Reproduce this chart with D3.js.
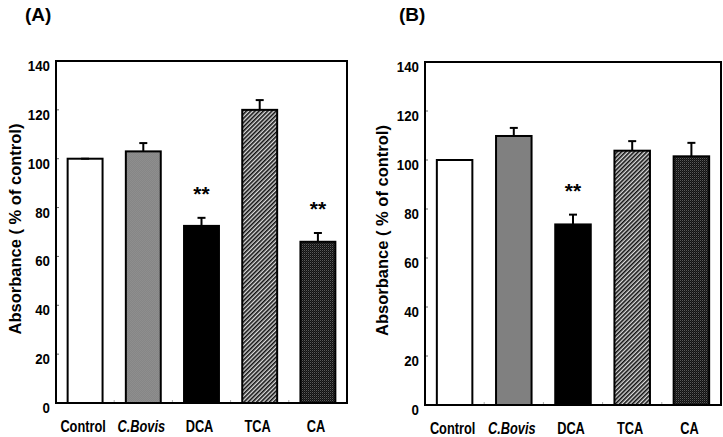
<!DOCTYPE html>
<html>
<head>
<meta charset="utf-8">
<script src="https://cdn.jsdelivr.net/npm/d3@7/dist/d3.min.js"></script>
<style>
  html, body { margin: 0; padding: 0; background: #fff; }
  svg { display: block; }
  text { font-family: "Liberation Sans", Arial, sans-serif; font-weight: bold; fill: #000; }
</style>
</head>
<body>
<svg id="chart" width="723" height="437"></svg>
<script>
// ---- data ----
const categories = ["Control", "C.Bovis", "DCA", "TCA", "CA"];
const valuesA = [100, 103, 72.5, 120, 66];
const errorsA = [0, 3.4, 3.3, 4, 3.6];
const sigA = ["", "", "**", "", "**"];
const valuesB = [100, 109.8, 73.7, 103.8, 101.5];
const errorsB = [0, 3.3, 4, 3.9, 5.5];
const sigB = ["", "", "**", "", ""];
const yTicks = [0, 20, 40, 60, 80, 100, 120, 140];
const panelLabels = ["(A)", "(B)"];
const yTitle = "Absorbance ( % of control)";

const svg = d3.select("#chart");
const defs = svg.append("defs");

// patterns
function patCBovisA() {
  const p = defs.append("pattern").attr("id", "pCBA").attr("patternUnits", "userSpaceOnUse")
    .attr("width", 2).attr("height", 2);
  p.append("rect").attr("width", 2).attr("height", 2).attr("fill", "#868686");
  p.append("rect").attr("width", 1).attr("height", 1).attr("fill", "#8e8e8e");
  p.append("rect").attr("x", 1).attr("y", 1).attr("width", 1).attr("height", 1).attr("fill", "#8e8e8e");
}
function patHatch(id) {
  const p = defs.append("pattern").attr("id", id).attr("patternUnits", "userSpaceOnUse")
    .attr("width", 3).attr("height", 3).attr("patternTransform", "rotate(45)");
  p.append("rect").attr("width", 3).attr("height", 3).attr("fill", "#dcdcdc");
  p.append("rect").attr("width", 1.6).attr("height", 3).attr("fill", "#111");
}
function patChecker(id) {
  const p = defs.append("pattern").attr("id", id).attr("patternUnits", "userSpaceOnUse")
    .attr("width", 2).attr("height", 2);
  p.append("rect").attr("width", 2).attr("height", 2).attr("fill", "#111");
  p.append("rect").attr("width", 1).attr("height", 1).attr("fill", "#5a5a5a");
  p.append("rect").attr("x", 1).attr("y", 1).attr("width", 1).attr("height", 1).attr("fill", "#2a2a2a");
}
patCBovisA();
patHatch("pHatch");
patChecker("pCheck");

const fillsA = ["#fff", "url(#pCBA)", "#000", "url(#pHatch)", "url(#pCheck)"];
const fillsB = ["#fff", "#808080", "#000", "url(#pHatch)", "url(#pCheck)"];

const panels = [
  { left: 56, top: 61, right: 347, bottom: 403, vals: valuesA, errs: errorsA, sig: sigA, fills: fillsA,
    label: panelLabels[0], labelX: 25, titleX: 21 },
  { left: 425, top: 62, right: 721, bottom: 405, vals: valuesB, errs: errorsB, sig: sigB, fills: fillsB,
    label: panelLabels[1], labelX: 399, titleX: 388 }
];

panels.forEach(P => {
  const g = svg.append("g");
  const x = d3.scaleBand().domain(categories).range([P.left, P.right]).paddingInner(0.4).paddingOuter(0.2);
  const y = d3.scaleLinear().domain([0, 140]).range([P.bottom, P.top]);

  // panel label
  g.append("text").attr("x", P.labelX).attr("y", 21).style("font-size", "19px").text(P.label);

  // y title
  g.append("text")
    .attr("transform", `translate(${P.titleX},${(P.top + P.bottom) / 2 - 3}) rotate(-90)`)
    .attr("text-anchor", "middle").style("font-size", "16.5px").text(yTitle);

  // y tick labels
  g.selectAll(".yt").data(yTicks).enter().append("text")
    .attr("transform", d => `translate(${P.left - 6},${y(d) + 10}) scale(0.95,1.08)`)
    .attr("text-anchor", "end").style("font-size", "14px").text(d => d);

  // small inner y ticks
  g.selectAll(".ytk").data(yTicks.slice(1, -1)).enter().append("line")
    .attr("x1", P.left).attr("x2", P.left + 3).attr("y1", d => y(d)).attr("y2", d => y(d))
    .attr("stroke", "#666").attr("stroke-width", 1);

  // faint x ticks at band boundaries
  const bounds = categories.slice(1).map(c => x(c) - x.step() * x.paddingInner() / 2);
  g.selectAll(".xtk").data(bounds).enter().append("line")
    .attr("x1", d => d).attr("x2", d => d).attr("y1", P.bottom).attr("y2", P.bottom - 3)
    .attr("stroke", "#aaa").attr("stroke-width", 1);

  // bars
  g.selectAll(".bar").data(categories).enter().append("rect")
    .attr("x", c => x(c)).attr("width", x.bandwidth())
    .attr("y", (c, i) => y(P.vals[i])).attr("height", (c, i) => P.bottom - y(P.vals[i]))
    .attr("fill", (c, i) => P.fills[i]).attr("stroke", "#000").attr("stroke-width", 2);

  // error bars (upper only)
  categories.forEach((c, i) => {
    const cx = x(c) + x.bandwidth() / 2;
    const y0 = y(P.vals[i]), y1 = y(P.vals[i] + P.errs[i]);
    g.append("line").attr("x1", cx).attr("x2", cx).attr("y1", y0).attr("y2", y1)
      .attr("stroke", "#000").attr("stroke-width", 2);
    g.append("line").attr("x1", cx - 4).attr("x2", cx + 4).attr("y1", y1).attr("y2", y1)
      .attr("stroke", "#000").attr("stroke-width", 2);
    if (P.sig[i]) {
      g.append("text").attr("x", cx).attr("y", y1 - 17).attr("text-anchor", "middle")
        .style("font-size", "21px").text(P.sig[i]);
    }
  });

  // x labels
  g.selectAll(".xl").data(categories).enter().append("text")
    .attr("transform", c => `translate(${x(c) + x.bandwidth() / 2 - 2},${P.bottom + 29}) scale(0.8,1)`)
    .attr("text-anchor", "middle").style("font-size", "16px")
    .style("font-style", c => c === "C.Bovis" ? "italic" : "normal")
    .text(c => c);

  // frame
  g.append("rect").attr("x", P.left).attr("y", P.top)
    .attr("width", P.right - P.left).attr("height", P.bottom - P.top)
    .attr("fill", "none").attr("stroke", "#000").attr("stroke-width", 2);
});
</script>
</body>
</html>
